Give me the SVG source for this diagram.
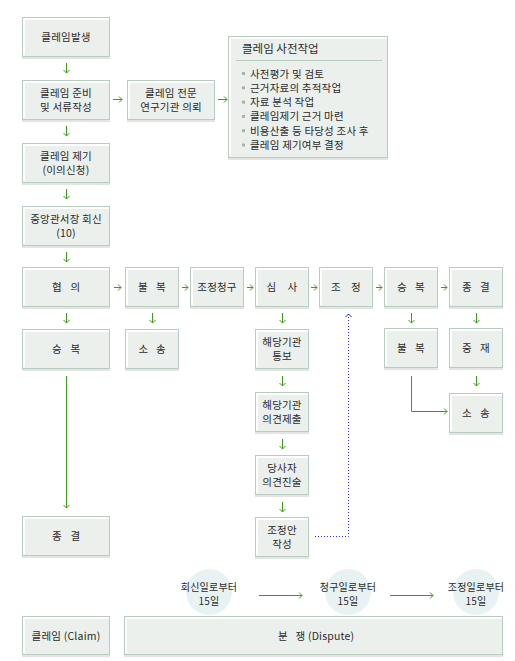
<svg xmlns="http://www.w3.org/2000/svg" width="515" height="661" viewBox="0 0 515 661">
<style>
text{font-family:"Noto Sans CJK KR","Noto Sans",sans-serif;font-size:10.5px;letter-spacing:0.2px;fill:#2a2a2a;text-anchor:middle}
.sh{fill:#e3e5e3}
.bx{fill:#ecf0ec;stroke:#b6cdbf;stroke-width:1}
.hl{fill:none;stroke:#fff;stroke-width:2}
.ar{fill:none;stroke:#3f9a1c;stroke-width:1;marker-end:url(#ah)}
.bl{fill:none;stroke:#2b2bff;stroke-width:1;stroke-dasharray:1 2;marker-end:url(#bh)}
.ci{fill:#e9f2f3}
.bu{fill:#aab0ab}
.tt{font-size:11.5px;letter-spacing:0;text-anchor:start}
.it{text-anchor:start;font-size:10.5px}
.ct{font-size:10px}
</style>
<defs>
<marker id="ah" viewBox="-4 -4 8 8" markerWidth="8" markerHeight="8" refX="0" refY="0" orient="auto" markerUnits="userSpaceOnUse"><path d="M-3,-3 L0,0 L-3,3" fill="none" stroke="#3f9a1c" stroke-width="1"/></marker>
<marker id="bh" viewBox="-4 -4 8 8" markerWidth="8" markerHeight="8" refX="0" refY="0" orient="auto" markerUnits="userSpaceOnUse"><path d="M-3,-3 L0,0 L-3,3" fill="none" stroke="#2b2bff" stroke-width="1"/></marker>
</defs>

<g id="connectors">
<path class="ar" d="M66.5,63 V73"/>
<path class="ar" d="M66.5,126 V136"/>
<path class="ar" d="M66.5,189 V199"/>
<path class="ar" d="M66.5,252 V262"/>
<path class="ar" d="M66.5,313 V323"/>
<path class="ar" d="M66.5,376 V508"/>
<path class="ar" d="M152.5,313 V323"/>
<path class="ar" d="M282.5,313 V323"/>
<path class="ar" d="M282.5,376 V386"/>
<path class="ar" d="M282.5,439 V449"/>
<path class="ar" d="M282.5,502 V512"/>
<path class="ar" d="M411.5,313 V323"/>
<path class="ar" d="M476.5,313 V323"/>
<path class="ar" d="M476.5,376 V386"/>
<path class="ar" d="M113,99.5 H122"/>
<path class="ar" d="M218,99.5 H227"/>
<path class="ar" d="M114,287.5 H121"/>
<path class="ar" d="M182,287.5 H188"/>
<path class="ar" d="M247,287.5 H253"/>
<path class="ar" d="M311,287.5 H317"/>
<path class="ar" d="M376,287.5 H382"/>
<path class="ar" d="M441,287.5 H447"/>
<path class="ar" d="M411.5,376 V411.5 H447"/>
<path class="ar" d="M259,595.5 H302"/>
<path class="ar" d="M390,595.5 H433"/>
<path class="bl" d="M315,536.5 H348.5 V314"/>
</g>

<g id="n1"><rect class="sh" x="22" y="19" width="88" height="40"/><rect class="bx" x="22.5" y="17.5" width="87" height="39"/><path class="hl" d="M24,55 V19 H109"/><text x="66" y="41">클레임발생</text></g>
<g id="n2"><rect class="sh" x="22" y="82" width="88" height="40"/><rect class="bx" x="22.5" y="80.5" width="87" height="39"/><path class="hl" d="M24,118 V82 H109"/><text x="66" y="96.5">클레임 준비</text><text x="66" y="111">및 서류작성</text></g>
<g id="n3"><rect class="sh" x="127" y="82" width="88" height="40"/><rect class="bx" x="127.5" y="80.5" width="87" height="39"/><path class="hl" d="M129,118 V82 H214"/><text x="171" y="96.5">클레임 전문</text><text x="171" y="111">연구기관 의뢰</text></g>
<g id="n4"><rect class="sh" x="228" y="38" width="160" height="122"/><rect class="bx" x="228.5" y="36.5" width="159" height="121"/><path class="hl" d="M230,156 V38 H387"/>
<text class="tt" x="242" y="53">클레임 사전작업</text>
<path d="M236,60.5 H382" stroke="#b6cdbf" stroke-width="1"/>
<rect class="bu" x="242" y="72" width="3" height="3"/><text class="it" x="250" y="77.5">사전평가 및 검토</text>
<rect class="bu" x="242" y="86.3" width="3" height="3"/><text class="it" x="250" y="91.8">근거자료의 추적작업</text>
<rect class="bu" x="242" y="100.6" width="3" height="3"/><text class="it" x="250" y="106.1">자료 분석 작업</text>
<rect class="bu" x="242" y="114.9" width="3" height="3"/><text class="it" x="250" y="120.4">클레임제기 근거 마련</text>
<rect class="bu" x="242" y="129.2" width="3" height="3"/><text class="it" x="250" y="134.7">비용산출 등 타당성 조사 후</text>
<rect class="bu" x="242" y="143.5" width="3" height="3"/><text class="it" x="250" y="149">클레임 제기여부 결정</text>
</g>
<g id="n5"><rect class="sh" x="22" y="145" width="88" height="40"/><rect class="bx" x="22.5" y="143.5" width="87" height="39"/><path class="hl" d="M24,181 V145 H109"/><text x="66" y="159.5">클레임 제기</text><text x="66" y="174">(이의신청)</text></g>
<g id="n6"><rect class="sh" x="22" y="208" width="88" height="40"/><rect class="bx" x="22.5" y="206.5" width="87" height="39"/><path class="hl" d="M24,244 V208 H109"/><text x="66" y="222.5">중앙관서장 회신</text><text x="66" y="237">(10)</text></g>
<g id="n7"><rect class="sh" x="22" y="269" width="88" height="40"/><rect class="bx" x="22.5" y="267.5" width="87" height="39"/><path class="hl" d="M24,305 V269 H109"/><text y="291"><tspan x="57">협</tspan><tspan x="75.5">의</tspan></text></g>
<g id="n8"><rect class="sh" x="22" y="331" width="88" height="40"/><rect class="bx" x="22.5" y="329.5" width="87" height="39"/><path class="hl" d="M24,367 V331 H109"/><text y="353"><tspan x="57">승</tspan><tspan x="75.5">복</tspan></text></g>
<g id="n9"><rect class="sh" x="22" y="518" width="88" height="40"/><rect class="bx" x="22.5" y="516.5" width="87" height="39"/><path class="hl" d="M24,554 V518 H109"/><text y="540"><tspan x="57">종</tspan><tspan x="75.5">결</tspan></text></g>
<g id="n10"><rect class="sh" x="125" y="269" width="54" height="40"/><rect class="bx" x="125.5" y="267.5" width="53" height="39"/><path class="hl" d="M127,305 V269 H178"/><text y="291"><tspan x="143">불</tspan><tspan x="161">복</tspan></text></g>
<g id="n11"><rect class="sh" x="125" y="331" width="54" height="40"/><rect class="bx" x="125.5" y="329.5" width="53" height="39"/><path class="hl" d="M127,367 V331 H178"/><text y="353"><tspan x="143.5">소</tspan><tspan x="161">송</tspan></text></g>
<g id="n12"><rect class="sh" x="190" y="269" width="54" height="40"/><rect class="bx" x="190.5" y="267.5" width="53" height="39"/><path class="hl" d="M192,305 V269 H243"/><text x="217" y="291">조정청구</text></g>
<g id="n13"><rect class="sh" x="255" y="269" width="54" height="40"/><rect class="bx" x="255.5" y="267.5" width="53" height="39"/><path class="hl" d="M257,305 V269 H308"/><text y="291"><tspan x="271.5">심</tspan><tspan x="292.5">사</tspan></text></g>
<g id="n14"><rect class="sh" x="319" y="269" width="54" height="40"/><rect class="bx" x="319.5" y="267.5" width="53" height="39"/><path class="hl" d="M321,305 V269 H372"/><text y="291"><tspan x="336">조</tspan><tspan x="356">정</tspan></text></g>
<g id="n15"><rect class="sh" x="384" y="269" width="54" height="40"/><rect class="bx" x="384.5" y="267.5" width="53" height="39"/><path class="hl" d="M386,305 V269 H437"/><text y="291"><tspan x="402">승</tspan><tspan x="420">복</tspan></text></g>
<g id="n16"><rect class="sh" x="449" y="269" width="54" height="40"/><rect class="bx" x="449.5" y="267.5" width="53" height="39"/><path class="hl" d="M451,305 V269 H502"/><text y="291"><tspan x="467">종</tspan><tspan x="485">결</tspan></text></g>
<g id="n17"><rect class="sh" x="255" y="331" width="54" height="40"/><rect class="bx" x="255.5" y="329.5" width="53" height="39"/><path class="hl" d="M257,367 V331 H308"/><text x="282" y="345.5">해당기관</text><text x="282" y="360">통보</text></g>
<g id="n18"><rect class="sh" x="384" y="330" width="54" height="40"/><rect class="bx" x="384.5" y="328.5" width="53" height="39"/><path class="hl" d="M386,366 V330 H437"/><text y="352"><tspan x="402">불</tspan><tspan x="420">복</tspan></text></g>
<g id="n19"><rect class="sh" x="449" y="330" width="54" height="40"/><rect class="bx" x="449.5" y="328.5" width="53" height="39"/><path class="hl" d="M451,366 V330 H502"/><text y="352"><tspan x="467">중</tspan><tspan x="485">재</tspan></text></g>
<g id="n20"><rect class="sh" x="255" y="394" width="54" height="40"/><rect class="bx" x="255.5" y="392.5" width="53" height="39"/><path class="hl" d="M257,430 V394 H308"/><text x="282" y="408.5">해당기관</text><text x="282" y="423">의견제출</text></g>
<g id="n21"><rect class="sh" x="449" y="395" width="54" height="40"/><rect class="bx" x="449.5" y="393.5" width="53" height="39"/><path class="hl" d="M451,431 V395 H502"/><text y="417"><tspan x="467">소</tspan><tspan x="485">송</tspan></text></g>
<g id="n22"><rect class="sh" x="255" y="457" width="54" height="40"/><rect class="bx" x="255.5" y="455.5" width="53" height="39"/><path class="hl" d="M257,493 V457 H308"/><text x="282" y="471.5">당사자</text><text x="282" y="486">의견진술</text></g>
<g id="n23"><rect class="sh" x="255" y="519" width="54" height="40"/><rect class="bx" x="255.5" y="517.5" width="53" height="39"/><path class="hl" d="M257,555 V519 H308"/><text x="282" y="533.5">조정안</text><text x="282" y="548">작성</text></g>

<g id="c1"><circle class="ci" cx="209" cy="592" r="23"/><text class="ct" x="209" y="590.5">회신일로부터</text><text class="ct" x="209" y="604.5">15일</text></g>
<g id="c2"><circle class="ci" cx="348" cy="592" r="23"/><text class="ct" x="348" y="590.5">청구일로부터</text><text class="ct" x="348" y="604.5">15일</text></g>
<g id="c3"><circle class="ci" cx="476" cy="592" r="23"/><text class="ct" x="476" y="590.5">조정일로부터</text><text class="ct" x="476" y="604.5">15일</text></g>

<g id="n24"><rect class="sh" x="22" y="618" width="88" height="39"/><rect class="bx" x="22.5" y="616.5" width="87" height="38"/><path class="hl" d="M24,653 V618 H109"/><text x="66" y="639.5">클레임 (Claim)</text></g>
<g id="n25"><rect class="sh" x="124" y="618" width="379" height="39"/><rect class="bx" x="124.5" y="616.5" width="378" height="38"/><path class="hl" d="M126,653 V618 H502"/><text y="639.5"><tspan x="283">분</tspan><tspan x="295.5" style="text-anchor:start">쟁 (Dispute)</tspan></text></g>
</svg>
